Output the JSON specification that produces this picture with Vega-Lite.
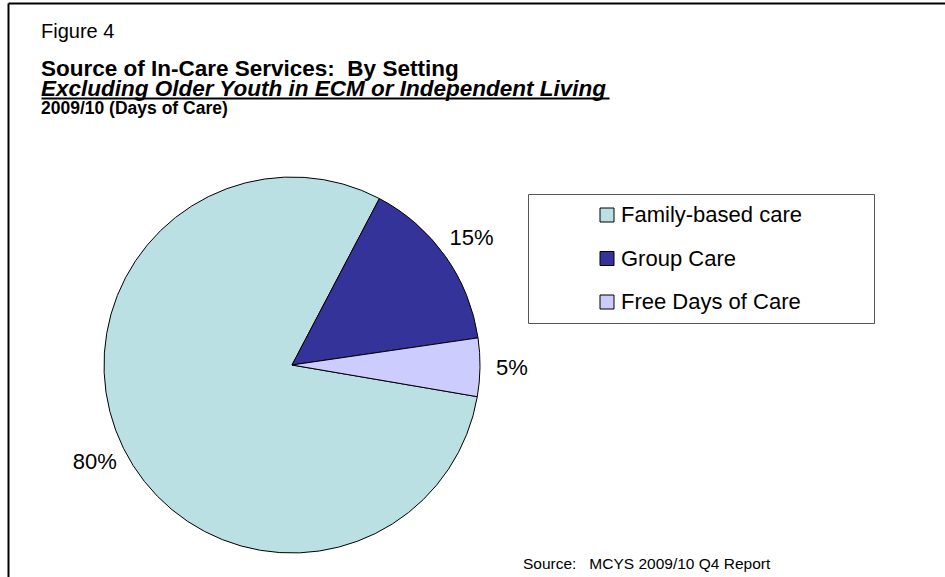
{
  "$schema": "https://vega.github.io/schema/vega-lite/v6.json",
  "padding": {"left": 8, "top": 3, "right": 0, "bottom": 0},
  "background": "white",
  "config": {"font": "Liberation Sans", "view": {"stroke": null}},
  "bounds": "flush",
  "spacing": 0,
  "vconcat": [
    {
      "title": {"text": "Figure 4", "anchor": "start", "font": "Liberation Sans", "fontSize": 20, "fontWeight": "normal", "color": "#000", "offset": 16},
      "vconcat": [
        {
          "title": {
            "text": "Source of In-Care Services:\u00a0 By Setting",
            "subtitle": "Excluding Older Youth in ECM or Independent Living",
            "anchor": "start",
            "font": "Liberation Sans", "fontSize": 22.5, "fontWeight": "bold", "color": "#000",
            "subtitleFont": "Liberation Sans", "subtitleFontSize": 22.5, "subtitleFontWeight": "bold", "subtitleFontStyle": "italic", "subtitleColor": "#000",
            "subtitlePadding": -3,
            "offset": -0.5
          },
          "vconcat": [
            {
              "title": {"text": "2009/10 (Days of Care)", "anchor": "start", "font": "Liberation Sans", "fontSize": 17.5, "fontWeight": "bold", "color": "#000", "offset": 58},
              "vconcat": [
                {
                  "title": {"text": "Source:\u00a0\u00a0 MCYS 2009/10 Q4 Report", "orient": "bottom", "anchor": "start", "dx": 482, "font": "Liberation Sans", "fontSize": 15.5, "fontWeight": "normal", "color": "#000", "offset": 2},
                  "width": 502,
                  "height": 376,
                  "data": {"values": [
                    {"setting": "Family-based care", "share": 0.80, "rank": 1},
                    {"setting": "Group Care", "share": 0.15, "rank": 2},
                    {"setting": "Free Days of Care", "share": 0.05, "rank": 3}
                  ]},
                  "encoding": {
                    "theta": {"field": "share", "type": "quantitative", "stack": true, "scale": {"range": [1.7401, 8.0233]}},
                    "order": {"field": "rank", "type": "quantitative"}
                  },
                  "layer": [
                    {
                      "mark": {"type": "arc", "outerRadius": 188, "stroke": "#000", "strokeWidth": 1},
                      "encoding": {
                        "color": {
                          "field": "setting", "type": "nominal",
                          "scale": {"domain": ["Family-based care", "Group Care", "Free Days of Care"], "range": ["#BBE0E3", "#333399", "#CCCCFF"]},
                          "legend": {
                            "orient": "none", "legendX": 487, "legendY": 17,
                            "title": " ", "titleOrient": "right", "titleFontSize": 22, "titlePadding": 62,
                            "symbolType": "square", "symbolSize": 196, "symbolStrokeColor": "#000", "symbolStrokeWidth": 1, "symbolOpacity": 1,
                            "symbolOffset": 58,
                            "labelFont": "Liberation Sans", "labelFontSize": 22, "labelColor": "#000", "labelOffset": 3, "labelLimit": 400,
                            "rowPadding": 21.5, "padding": 10, "strokeColor": "#555", "fillColor": "white"
                          }
                        }
                      }
                    },
                    {
                      "mark": {"type": "text", "radius": 220, "fontSize": 22, "font": "Liberation Sans", "align": "center", "baseline": "middle"},
                      "encoding": {
                        "text": {"field": "share", "type": "quantitative", "format": ".0%"},
                        "color": {"value": "#000"}
                      }
                    }
                  ]
                }
              ]
            }
          ]
        }
      ]
    },
    {
      "width": 10,
      "height": 10,
      "data": {"values": [{"frame": "figure border"}]},
      "layer": [
        {
          "mark": {"type": "point", "opacity": 0},
          "encoding": {
            "x": {"datum": 0.5, "type": "quantitative", "scale": {"domain": [0, 1], "range": [-33, 950]},
                  "axis": {"orient": "top", "offset": 174, "domainColor": "#000", "domainWidth": 2, "ticks": false, "labels": false, "grid": false, "title": null}},
            "y": {"datum": 0.5, "type": "quantitative", "scale": {"domain": [0, 1], "range": [-174, 1000]},
                  "axis": {"orient": "left", "offset": 33, "domainColor": "#000", "domainWidth": 2, "ticks": false, "labels": false, "grid": false, "title": null}}
          }
        },
        {
          "mark": {"type": "point", "opacity": 0},
          "encoding": {
            "x": {"datum": 0.5, "type": "quantitative", "scale": {"domain": [0, 1], "range": [0, 568]},
                  "axis": {"orient": "bottom", "offset": -89, "domainColor": "#000", "domainWidth": 2, "ticks": false, "labels": false, "grid": false, "title": null}}
          }
        }
      ],
      "resolve": {"scale": {"x": "independent"}, "axis": {"x": "independent"}}
    }
  ]
}
